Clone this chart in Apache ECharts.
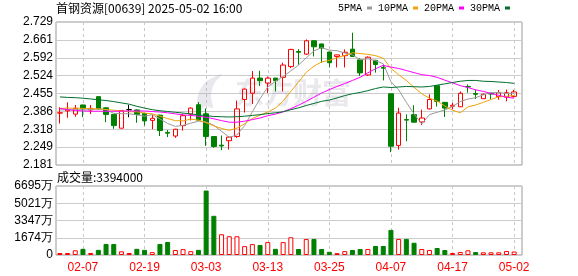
<!DOCTYPE html>
<html><head><meta charset="utf-8">
<script src="https://cdn.jsdelivr.net/npm/echarts@6.0.0/dist/echarts.min.js"></script>
<style>html,body{margin:0;padding:0;background:#fff}#c{width:578px;height:276px}</style>
</head><body><div id="c"></div>
<script>
const stockTitle = '首钢资源[00639] 2025-05-02 16:00';
const dates = ['02-04','02-05','02-06','02-07','02-10','02-11','02-12','02-13','02-14','02-17','02-18','02-19','02-20','02-21','02-24','02-25','02-26','02-27','02-28',
'03-03','03-04','03-05','03-06','03-07','03-10','03-11','03-12','03-13','03-14','03-17','03-18','03-19','03-20','03-21','03-24','03-25','03-26','03-27','03-28','03-31',
'04-01','04-02','04-03','04-07','04-08','04-09','04-10','04-11','04-14','04-15','04-16','04-17','04-22','04-23','04-24','04-25','04-28','04-29','04-30','05-02'];
const opens = [2.380,2.388,2.376,2.411,2.392,2.443,2.400,2.375,2.322,2.393,
2.392,2.378,2.352,2.372,2.306,2.292,2.332,2.376,2.412,2.377,
2.290,2.257,2.274,2.290,2.432,2.456,2.514,2.495,2.514,2.517,
2.558,2.616,2.606,2.657,2.645,2.614,2.597,2.600,2.625,2.584,
2.526,2.582,2.555,2.454,2.256,2.355,2.374,2.346,2.396,2.485,
2.421,2.406,2.404,2.482,2.455,2.435,2.455,2.443,2.441,2.444];
const closes = [2.381,2.392,2.398,2.396,2.398,2.396,2.375,2.332,2.390,2.393,
2.375,2.350,2.360,2.313,2.303,2.318,2.370,2.399,2.353,2.290,
2.252,2.254,2.288,2.396,2.472,2.514,2.504,2.514,2.504,2.564,
2.624,2.613,2.657,2.634,2.629,2.573,2.603,2.613,2.597,2.534,
2.594,2.566,2.552,2.253,2.380,2.353,2.345,2.361,2.432,2.425,
2.399,2.410,2.456,2.480,2.452,2.452,2.453,2.458,2.458,2.461];
const lows = [2.340,2.362,2.366,2.364,2.376,2.394,2.345,2.320,2.322,2.364,
2.343,2.332,2.318,2.292,2.288,2.285,2.313,2.352,2.350,2.254,
2.247,2.238,2.240,2.285,2.382,2.415,2.484,2.457,2.463,2.463,
2.552,2.565,2.603,2.597,2.573,2.555,2.555,2.555,2.595,2.522,
2.522,2.535,2.505,2.230,2.240,2.272,2.345,2.334,2.394,2.405,
2.365,2.394,2.403,2.458,2.434,2.434,2.433,2.431,2.425,2.439];
const highs = [2.402,2.421,2.411,2.412,2.411,2.443,2.402,2.376,2.391,2.411,
2.394,2.381,2.373,2.374,2.315,2.320,2.378,2.402,2.422,2.398,
2.292,2.294,2.292,2.428,2.474,2.541,2.542,2.520,2.515,2.573,
2.626,2.625,2.662,2.659,2.646,2.615,2.604,2.624,2.688,2.590,
2.597,2.584,2.568,2.455,2.400,2.375,2.410,2.393,2.452,2.486,
2.423,2.419,2.463,2.490,2.470,2.455,2.457,2.468,2.470,2.469];
// volume in 万 shares
const volumes = [195,195,455,600,195,500,1072,1072,357,195,
600,500,276,1072,1267,487,570,370,500,6255,
3803,2015,1820,1820,860,1056,975,1250,600,1250,
1722,585,1545,1560,585,310,180,375,487,585,
585,877,877,2437,1560,1560,1190,585,487,682,
487,195,292,455,292,260,260,260,390,339.4];
const ma5 = [2.392,2.393,2.393,2.392,2.393,2.396,2.393,2.379,2.378,2.377,
2.373,2.368,2.374,2.358,2.340,2.329,2.333,2.341,2.349,2.346,
2.333,2.310,2.287,2.296,2.332,2.385,2.435,2.480,2.502,2.520,
2.542,2.564,2.592,2.618,2.631,2.621,2.619,2.610,2.603,2.584,
2.588,2.581,2.569,2.500,2.469,2.421,2.377,2.338,2.374,2.383,
2.392,2.405,2.424,2.434,2.439,2.450,2.459,2.459,2.455,2.456];
const ma10 = [2.398,2.399,2.399,2.398,2.397,2.396,2.394,2.391,2.388,2.385,
2.385,2.380,2.377,2.368,2.359,2.351,2.350,2.357,2.353,2.343,
2.331,2.321,2.314,2.322,2.339,2.359,2.372,2.384,2.399,2.426,
2.463,2.499,2.536,2.560,2.576,2.582,2.592,2.601,2.611,2.608,
2.605,2.600,2.590,2.551,2.527,2.505,2.479,2.454,2.437,2.426,
2.407,2.391,2.381,2.404,2.411,2.421,2.432,2.442,2.444,2.448];
const ma20 = [2.398,2.393,2.390,2.388,2.387,2.387,2.387,2.387,2.387,2.388,
2.388,2.388,2.386,2.384,2.381,2.377,2.373,2.371,2.368,2.364,
2.358,2.351,2.345,2.345,2.349,2.355,2.361,2.370,2.376,2.385,
2.397,2.410,2.425,2.441,2.457,2.470,2.482,2.493,2.505,2.517,
2.534,2.550,2.563,2.556,2.551,2.543,2.535,2.527,2.524,2.517,
2.506,2.496,2.485,2.478,2.469,2.463,2.455,2.448,2.441,2.437];
const ma30 = [2.442,2.440,2.439,2.437,2.434,2.431,2.428,2.424,2.419,2.414,
2.406,2.399,2.393,2.389,2.386,2.383,2.380,2.377,2.373,2.370,
2.367,2.366,2.365,2.366,2.368,2.371,2.374,2.378,2.381,2.385,
2.393,2.400,2.409,2.417,2.425,2.430,2.438,2.447,2.454,2.459,
2.466,2.474,2.480,2.478,2.480,2.482,2.481,2.480,2.482,2.487,
2.492,2.497,2.502,2.505,2.505,2.502,2.501,2.499,2.497,2.494];
const priceTicks = ['2.181','2.249','2.318','2.386','2.455','2.524','2.592','2.661','2.729'];
const volTicks = ['0','1674万','3347万','5021万','6695万'];
const labelEvery = 8, labelStart = 3;

const UP = '#ff0000', DOWN = '#008000';
const FONT = "'Liberation Sans', Arial, sans-serif";
const CJK = "'Noto Sans CJK SC', sans-serif";

const candleData = dates.map((d, i) => {
  const item = { value: [opens[i], closes[i], lows[i], highs[i]] };
  if (opens[i] === closes[i]) {
    item.itemStyle = { color: '#000', color0: '#000', borderColor: '#000', borderColor0: '#000', borderColorDoji: '#000' };
  }
  return item;
});
const volData = volumes.map((v, i) => {
  const up = i === 0 ? closes[0] >= opens[0] : closes[i] >= closes[i - 1];
  return { value: v, itemStyle: up ? { color: '#ffffff', borderColor: UP, borderWidth: 1 } : { color: DOWN, borderColor: DOWN, borderWidth: 1 } };
});
const showIdx = (idx) => (idx - labelStart) % labelEvery === 0;
const lastVol = Math.round(volumes[volumes.length - 1] * 10000);

const chart = echarts.init(document.getElementById('c'), null, { renderer: 'canvas' });
const lineS = (name, data, color) => ({
  name, type: 'line', data, xAxisIndex: 1, yAxisIndex: 1, symbol: 'none', smooth: false,
  lineStyle: { width: 1, color }, itemStyle: { color }, z: 3, silent: true
});
const WM = 'rgba(170,170,185,0.26)';
chart.setOption({
  animation: false,
  backgroundColor: '#fff',
  title: [
    { text: stockTitle, left: 56, top: 2, padding: 0, textStyle: { fontSize: 12, fontWeight: 'normal', color: '#000', fontFamily: CJK } },
    { text: '成交量:' + lastVol, left: 57, top: 171, padding: 0, textStyle: { fontSize: 12, fontWeight: 'normal', color: '#000', fontFamily: CJK } }
  ],
  legend: {
    data: ['5PMA', '10PMA', '20PMA', '30PMA'], left: 338, top: 3, padding: 0, itemGap: 6,
    align: 'right', icon: 'rect', itemWidth: 5, itemHeight: 3,
    textStyle: { fontSize: 10, color: '#000', fontFamily: "'Liberation Mono', 'DejaVu Sans Mono', monospace" }
  },
  graphic: [
    { type: 'polygon', z: 1, silent: true,
      shape: { points: [[199,111],[197,100],[200,90],[207,81],[222,74],[214,84],[211,96],[213,108],[206,106]], smooth: 0.3 },
      style: { fill: WM } },
    { type: 'text', left: 235, top: 78, z: 1, silent: true,
      style: { text: '东方财富', font: 'bold 29px ' + CJK, fill: WM } }
  ],
  grid: [
    { left: 56, top: 22, width: 466, height: 143, show: true, borderColor: '#999', borderWidth: 1, backgroundColor: 'transparent', outerBoundsMode: 'none' },
    { left: 56, top: 22, width: 462, height: 143, outerBoundsMode: 'none' },
    { left: 56, top: 186, width: 466, height: 69, show: true, borderColor: '#999', borderWidth: 1, backgroundColor: 'transparent', outerBoundsMode: 'none' },
    { left: 56, top: 186, width: 462, height: 69, outerBoundsMode: 'none' }
  ],
  xAxis: [
    { gridIndex: 0, type: 'value', min: 0, max: 1, show: false },
    { gridIndex: 1, type: 'category', data: dates, boundaryGap: true,
      axisLine: { show: false }, axisTick: { show: false, alignWithLabel: true }, axisLabel: { show: false },
      splitLine: { show: true, interval: showIdx, alignWithLabel: true, lineStyle: { type: [3, 3], color: '#c8c8c8', width: 1 } } },
    { gridIndex: 2, type: 'value', min: 0, max: 1, show: false },
    { gridIndex: 3, type: 'category', data: dates, boundaryGap: true,
      axisLine: { show: false }, axisTick: { show: false, alignWithLabel: true },
      axisLabel: { show: true, interval: showIdx, color: '#ff0000', fontSize: 12, margin: 7, fontFamily: FONT },
      splitLine: { show: true, interval: showIdx, alignWithLabel: true, lineStyle: { type: [3, 3], color: '#c8c8c8', width: 1 } } }
  ],
  yAxis: [
    { gridIndex: 0, type: 'value', min: 0, max: priceTicks.length - 1, interval: 1,
      axisLine: { show: false }, axisTick: { show: false },
      axisLabel: { formatter: (v) => priceTicks[Math.round(v)], color: '#000', fontSize: 12, margin: 3, fontFamily: FONT },
      splitLine: { show: true, lineStyle: { color: '#cccccc', width: 1 } } },
    { gridIndex: 1, type: 'value', min: 2.181, max: 2.729, show: false, splitLine: { show: false } },
    { gridIndex: 2, type: 'value', min: 0, max: volTicks.length - 1, interval: 1,
      axisLine: { show: false }, axisTick: { show: false },
      axisLabel: { formatter: (v) => volTicks[Math.round(v)], color: '#000', fontSize: 12, margin: 3, fontFamily: FONT },
      splitLine: { show: true, lineStyle: { color: '#cccccc', width: 1 } } },
    { gridIndex: 3, type: 'value', min: 0, max: 6695, show: false, splitLine: { show: false } }
  ],
  series: [
    { name: 'K', type: 'candlestick', data: candleData, xAxisIndex: 1, yAxisIndex: 1, barWidth: 5, z: 2,
      itemStyle: { color: 'transparent', color0: DOWN, borderColor: UP, borderColor0: DOWN, borderWidth: 1 } },
    lineS('5PMA', ma5, '#9a9a9a'),
    lineS('10PMA', ma10, '#f0a30a'),
    lineS('20PMA', ma20, '#ff00ff'),
    lineS('30PMA', ma30, '#006f2e'),
    { name: 'VOL', type: 'bar', data: volData, xAxisIndex: 3, yAxisIndex: 3, barWidth: 5, z: 2 }
  ]
});
</script></body></html>
